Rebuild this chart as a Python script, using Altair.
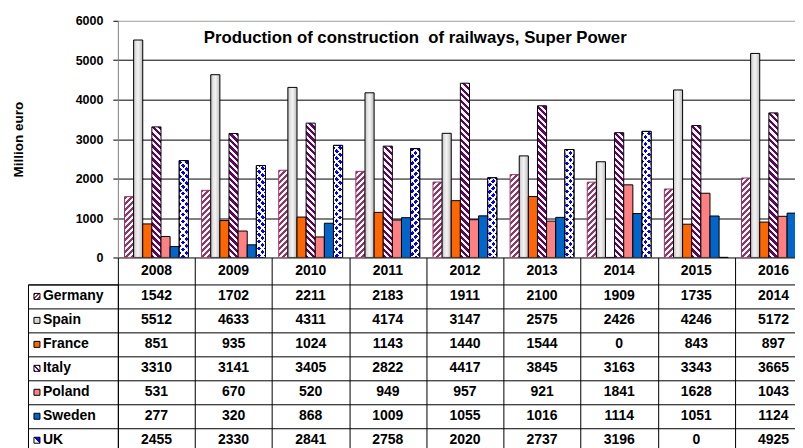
import altair as alt
import pandas as pd

# ---------------- data ----------------
years = ["2008", "2009", "2010", "2011", "2012", "2013", "2014", "2015", "2016"]
countries = ["Germany", "Spain", "France", "Italy", "Poland", "Sweden", "UK"]
germany = [1542, 1702, 2211, 2183, 1911, 2100, 1909, 1735, 2014]
spain = [5512, 4633, 4311, 4174, 3147, 2575, 2426, 4246, 5172]
france = [851, 935, 1024, 1143, 1440, 1544, 0, 843, 897]
italy = [3310, 3141, 3405, 2822, 4417, 3845, 3163, 3343, 3665]
poland = [531, 670, 520, 949, 957, 921, 1841, 1628, 1043]
sweden = [277, 320, 868, 1009, 1055, 1016, 1114, 1051, 1124]
uk = [2455, 2330, 2841, 2758, 2020, 2737, 3196, 0, 4925]
series = [germany, spain, france, italy, poland, sweden, uk]

title_text = "Production of construction\u00a0 of railways, Super Power"
y_title = "Million euro"

# ---------------- layout / style ----------------
FONT = "Liberation Sans"
W = 695               # 9 year columns; the right part falls outside the page
H = 237
LABEL_W, HEADER_H, ROW_H = 90, 27, 24
YMAX = 6000
PAD_IN, PAD_OUT = 0.172, 0.086
BAR_W = W / len(years) * (1 - PAD_IN) / len(countries)


def stripes(w, h, period, frac, c_on, c_off, rising):
    """Diagonal stripe pattern as an SVG linear gradient (bbox units)."""
    h = max(float(h), 1.0)
    r = h / w
    denom = w * (1 + r * r)
    pt = period / denom
    tmax = (w + h) / denom
    stops = []
    k = 0
    while k * pt <= tmax:
        a = k * pt
        b = a + frac * pt
        c = a + pt
        stops += [
            {"offset": round(a, 6), "color": c_on},
            {"offset": round(b, 6), "color": c_on},
            {"offset": round(b, 6), "color": c_off},
            {"offset": round(c, 6), "color": c_off},
        ]
        k += 1
    if rising:
        x1, y1, x2, y2 = 0, 0, 1, r
    else:
        x1, y1, x2, y2 = 0, 1, 1, 1 - r
    return {"gradient": "linear", "x1": x1, "y1": y1, "x2": x2, "y2": y2, "stops": stops}


spain_grad = {
    "gradient": "linear", "x1": 0, "y1": 0, "x2": 1, "y2": 0,
    "stops": [
        {"offset": 0, "color": "#bdbdbd"},
        {"offset": 0.25, "color": "#e2e2e2"},
        {"offset": 0.5, "color": "#f3f3f3"},
        {"offset": 0.75, "color": "#d9d9d9"},
        {"offset": 1, "color": "#b5b5b5"},
    ],
}
CLEAR = "rgba(255,255,255,0)"


def bar_fill(country, h):
    if country == "Germany":
        return stripes(BAR_W, h, 6.0, 0.5, "#993366", "#ffffff", True)
    if country == "Italy":
        return stripes(BAR_W, h, 6.5, 0.5, "#660066", "#ffffff", False)
    if country == "UK":
        return stripes(BAR_W, h, 7.0, 0.6, "#0000ff", "#ffffff", True)
    if country == "Spain":
        return spain_grad
    return {"France": "#ff6600", "Poland": "#ff8080", "Sweden": "#0066cc"}[country]


def bar_overlay(country, h):
    if country == "UK":
        return stripes(BAR_W, h, 7.0, 0.4, "#ffffff", CLEAR, False)
    return None


def swatch_fill(country):
    if country == "Germany":
        return stripes(6, 6, 4.0, 0.5, "#993366", "#ffffff", True)
    if country == "Italy":
        return stripes(6, 6, 5.0, 0.45, "#660066", "#ffffff", False)
    if country == "UK":
        return {"gradient": "linear", "x1": 0, "y1": 1, "x2": 1, "y2": 0,
                "stops": [{"offset": 0, "color": "#ffffff"}, {"offset": 0.5, "color": "#ffffff"},
                          {"offset": 0.5, "color": "#0000ff"}, {"offset": 1, "color": "#0000ff"}]}
    if country == "Spain":
        return "#d9d9d9"
    return {"France": "#ff6600", "Poland": "#ff8080", "Sweden": "#0066cc"}[country]


rows = []
for c, vals in zip(countries, series):
    for yr, v in zip(years, vals):
        h = v / YMAX * H
        rows.append({
            "country": c, "year": yr, "value": v,
            "fill": bar_fill(c, h),
            "fill2": bar_overlay(c, h),
            "stroke": "#993366" if c == "Germany" else "#000000",
        })
df = pd.DataFrame(rows)
lab_df = pd.DataFrame({"country": countries, "sw": [swatch_fill(c) for c in countries]})
hdr_df = pd.DataFrame({"year": years})

# ---------------- encodings ----------------
x_bar = alt.X("year:N", sort=years, axis=None,
              scale=alt.Scale(paddingInner=PAD_IN, paddingOuter=PAD_OUT))
x_off = alt.XOffset("country:N", sort=countries,
                    scale=alt.Scale(domain=countries, paddingInner=0, paddingOuter=0))
y_axis = alt.Axis(
    values=list(range(0, YMAX + 1, 1000)), format="d", labelOverlap=False,
    title=y_title, titleX=-99, titleY=H / 2, titleAngle=270, titleAlign="center",
    titleBaseline="middle", titleFont=FONT, titleFontSize=13.5, titleFontWeight="bold",
    titleColor="black",
    labelFont=FONT, labelFontSize=12.5, labelFontWeight="bold", labelColor="black",
    labelPadding=10, tickSize=5, tickColor="black", domainColor="#808080",
    grid=True, gridOpacity=1, gridWidth=1,
    gridColor=alt.condition("datum.value == 6000", alt.value("#a0a0a0"), alt.value("#000000")),
)
y_bar = alt.Y("value:Q", scale=alt.Scale(domain=[0, YMAX], nice=False), axis=y_axis)

base = alt.Chart(df)
bars = base.mark_bar(strokeWidth=1, clip=True).encode(
    x=x_bar, xOffset=x_off, y=y_bar,
    fill=alt.Fill("fill:N", scale=None),
    stroke=alt.Stroke("stroke:N", scale=None),
)
uk_over = base.transform_filter("datum.country == 'UK'").mark_bar(
    strokeWidth=1, stroke="black", clip=True
).encode(
    x=x_bar, xOffset=x_off, y=y_bar,
    fill=alt.Fill("fill2:N", scale=None),
)
bar_chart = alt.layer(bars, uk_over).properties(
    width=W, height=H,
    title=alt.TitleParams(
        title_text, anchor="start", frame="group", dx=86, offset=-45,
        baseline="alphabetic", font=FONT, fontSize=16.8, fontWeight="bold", color="black",
    ),
)

grid_axis = dict(grid=True, tickBand="extent", labels=False, ticks=False, domain=False,
                 title=None, gridColor="#000000", gridOpacity=1, gridWidth=1)
band = alt.Scale(type="band", paddingInner=0, paddingOuter=0)
x_tab = alt.X("year:N", sort=years, scale=band, axis=alt.Axis(**grid_axis))
y_tab = alt.Y("country:N", sort=countries, scale=band, axis=alt.Axis(**grid_axis))
txt = dict(font=FONT, fontSize=14, fontWeight="bold", color="black")

header = alt.Chart(hdr_df).mark_text(**txt).encode(
    x=x_tab, text="year:N"
).properties(width=W, height=HEADER_H)

table = alt.Chart(df).mark_text(**txt).encode(
    x=x_tab, y=y_tab, text=alt.Text("value:Q", format="d")
).properties(width=W, height=ROW_H * len(countries))

swatches = alt.Chart(lab_df).mark_square(size=36, stroke="black", strokeWidth=1, opacity=1).encode(
    x=alt.value(9), y=y_tab, fill=alt.Fill("sw:N", scale=None)
)
names = alt.Chart(lab_df).mark_text(align="left", **txt).encode(
    x=alt.value(15), y=y_tab, text="country:N"
)
label_chart = alt.layer(swatches, names).properties(
    width=LABEL_W, height=ROW_H * len(countries),
    view=alt.ViewBackground(stroke="black", strokeWidth=1),
)

blank = pd.DataFrame({"t": [""]})
spacer1 = alt.Chart(blank).mark_text().encode(text="t:N").properties(width=LABEL_W, height=H)
spacer2 = alt.Chart(blank).mark_text().encode(text="t:N").properties(width=LABEL_W, height=HEADER_H)

chart = alt.concat(
    spacer1, bar_chart, spacer2, header, label_chart, table,
    columns=2, spacing=0, bounds="flush", align="each",
).properties(
    padding={"left": 3, "top": 5.5, "right": -18, "bottom": 0},
    background="white",
).configure_view(stroke="transparent")

chart.save("out.html", embed_options={"renderer": "svg", "actions": False})
